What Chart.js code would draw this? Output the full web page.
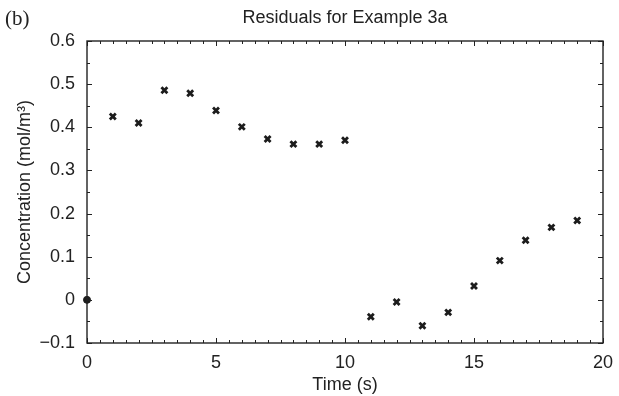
<!DOCTYPE html>
<html>
<head>
<meta charset="utf-8">
<script src="https://cdn.jsdelivr.net/npm/chart.js@4.4.0/dist/chart.umd.min.js"></script>
<style>
  html, body { margin: 0; padding: 0; background: #fff; }
  #wrap { width: 619px; height: 396px; }
</style>
</head>
<body>
<div id="wrap"><canvas id="residuos"></canvas></div>
<script>
const tempos = [0, 1, 2, 3, 4, 5, 6, 7, 8, 9, 10, 11, 12, 13, 14, 15, 16, 17, 18, 19];
const residuos = [0, 0.425, 0.41, 0.486, 0.479, 0.439, 0.401, 0.373, 0.361, 0.361, 0.370,
    -0.039, -0.005, -0.060, -0.029, 0.032, 0.091, 0.138, 0.168, 0.184];
const marcadores = tempos.map((t, i) => i === 0 ? 'circle' : 'crossRot');
const titulo = 'Residuals for Example 3a';
const painel = '(b)';
const eixoX = 'Time (s)';
const eixoY = 'Concentration (mol/m\u00B3)';

const fonte = 'Arial, "Liberation Sans", Helvetica, sans-serif';
const corTexto = '#222';

// moldura com ticks para dentro, nos quatro lados
const moldura = {
    id: 'moldura',
    afterDraw(chart) {
        const { ctx, chartArea: a, scales } = chart;
        ctx.save();
        ctx.strokeStyle = '#222';
        ctx.lineWidth = 1;
        ctx.beginPath();
        for (let v = 0; v <= 20.001; v += 0.5) {
            const x = Math.round(scales.x.getPixelForValue(v)) + 0.5;
            const len = Math.abs(v % 5) < 1e-6 ? 5 : 3;
            ctx.moveTo(x, a.bottom); ctx.lineTo(x, a.bottom - len);
            ctx.moveTo(x, a.top); ctx.lineTo(x, a.top + len);
        }
        for (let k = -2; k <= 12; k++) {
            const v = k * 0.05;
            const y = Math.round(scales.y.getPixelForValue(v)) + 0.5;
            const len = k % 2 === 0 ? 5 : 3;
            ctx.moveTo(a.left, y); ctx.lineTo(a.left + len, y);
            ctx.moveTo(a.right, y); ctx.lineTo(a.right - len, y);
        }
        ctx.stroke();
        ctx.lineWidth = 1.4;
        ctx.strokeRect(a.left, a.top, a.right - a.left, a.bottom - a.top);

        ctx.fillStyle = corTexto;
        ctx.textAlign = 'center';
        ctx.textBaseline = 'middle';
        ctx.font = '18px ' + fonte;
        ctx.fillText(titulo, (a.left + a.right) / 2, 18);
        ctx.textAlign = 'left';
        ctx.font = '21px "Liberation Serif", "Times New Roman", serif';
        ctx.fillText(painel, 5, 19);
        ctx.restore();
    }
};

new Chart(document.getElementById('residuos'), {
    type: 'scatter',
    data: {
        datasets: [{
            data: tempos.map((t, i) => ({ x: t, y: residuos[i] })),
            pointStyle: marcadores,
            pointRadius: tempos.map((t, i) => i === 0 ? 3.5 : 4.2),
            pointBorderWidth: tempos.map((t, i) => i === 0 ? 1 : 2.8),
            borderColor: '#1c1c1c',
            backgroundColor: '#1c1c1c',
            clip: false
        }]
    },
    options: {
        responsive: true,
        maintainAspectRatio: false,
        animation: false,
        layout: { padding: { top: 41, right: 16, left: 0, bottom: 0 } },
        plugins: {
            legend: { display: false },
            tooltip: { enabled: false }
        },
        scales: {
            x: {
                type: 'linear',
                min: 0, max: 20,
                grid: { display: false },
                border: { display: false },
                ticks: { stepSize: 5, color: corTexto, padding: 1, font: { size: 18, family: fonte } },
                title: { display: true, text: eixoX, color: corTexto, font: { size: 18, family: fonte }, padding: { top: 0, bottom: 0 } },
                afterFit: s => { s.height = 53; }
            },
            y: {
                type: 'linear',
                min: -0.1, max: 0.6,
                grid: { display: false },
                border: { display: false },
                ticks: {
                    stepSize: 0.1, color: corTexto, padding: 4,
                    font: { size: 18, family: fonte },
                    callback: v => Math.abs(v) < 1e-9 ? '0' : v.toFixed(1).replace('-', '\u2212')
                },
                title: { display: true, text: eixoY, color: corTexto, font: { size: 18, family: fonte }, padding: { top: 14, bottom: 0 } },
                afterFit: s => { s.width = 87; }
            }
        }
    },
    plugins: [moldura]
});
</script>
</body>
</html>
